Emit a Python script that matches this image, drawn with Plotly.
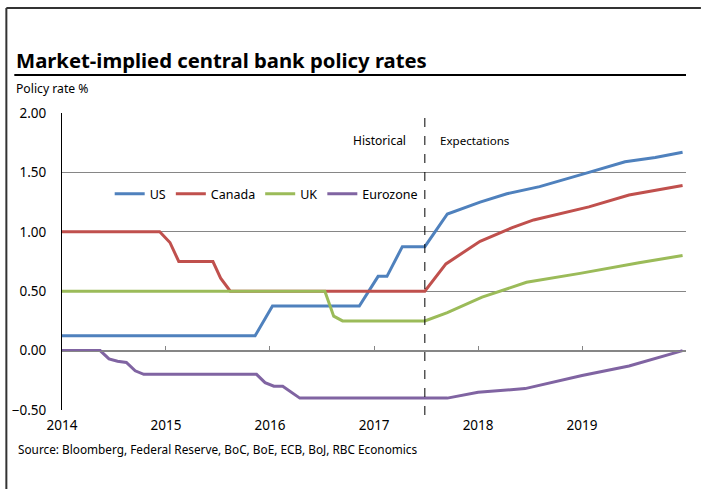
import plotly.graph_objects as go

# ---- data ----
us_dates = ["2014-01-01", "2015-11-10", "2016-01-10", "2016-11-10", "2017-01-15", "2017-02-15",
            "2017-04-10", "2017-06-28", "2017-09-15", "2018-01-08", "2018-04-12", "2018-08-05",
            "2019-01-25", "2019-06-01", "2019-09-15", "2019-12-20"]
us_vals = [0.125, 0.125, 0.375, 0.375, 0.625, 0.625, 0.875, 0.875, 1.15, 1.25, 1.32, 1.38,
           1.50, 1.59, 1.625, 1.67]

ca_dates = ["2014-01-01", "2014-12-10", "2015-01-15", "2015-02-15", "2015-06-15", "2015-07-12",
            "2015-08-15", "2017-06-28", "2017-09-10", "2018-01-08", "2018-05-01", "2018-07-15",
            "2019-01-25", "2019-06-15", "2019-12-20"]
ca_vals = [1.0, 1.0, 0.91, 0.75, 0.75, 0.61, 0.5, 0.5, 0.73, 0.92, 1.035, 1.10, 1.21, 1.31, 1.39]

uk_dates = ["2014-01-01", "2016-07-12", "2016-08-12", "2016-09-12", "2017-06-28", "2017-09-15",
            "2018-01-15", "2018-06-20", "2018-12-25", "2019-07-20", "2019-12-20"]
uk_vals = [0.5, 0.5, 0.29, 0.25, 0.25, 0.32, 0.45, 0.575, 0.65, 0.74, 0.80]

ez_dates = ["2014-01-01", "2014-05-15", "2014-06-15", "2014-07-15", "2014-08-15", "2014-09-15",
            "2014-10-15", "2015-11-15", "2015-12-15", "2016-01-15", "2016-02-15", "2016-04-15",
            "2017-09-15", "2018-01-01", "2018-06-15", "2019-01-01", "2019-06-15", "2019-12-20"]
ez_vals = [0.0, 0.0, -0.07, -0.09, -0.10, -0.17, -0.20, -0.20, -0.27, -0.30, -0.30, -0.40,
           -0.40, -0.35, -0.32, -0.21, -0.13, 0.0]

year_ticks = ["2014-01-01", "2015-01-01", "2016-01-01", "2017-01-01", "2018-01-01", "2019-01-01", "2020-01-01"]
year_labels = ["2014", "2015", "2016", "2017", "2018", "2019", ""]
divider_date = "2017-06-28"

FONT = "Noto Sans"
series = [
    ("US", us_dates, us_vals, "#4F81BD"),
    ("Canada", ca_dates, ca_vals, "#C0504D"),
    ("UK", uk_dates, uk_vals, "#9BBB59"),
    ("Eurozone", ez_dates, ez_vals, "#8064A2"),
]

fig = go.Figure()
for name, d, v, c in series:
    fig.add_trace(go.Scatter(x=d, y=v, name=name, mode="lines",
                             line=dict(color=c, width=3)))

# secondary x axis drawn at y=0 with inside ticks (Excel style crossing)
fig.add_trace(go.Scatter(x=[year_ticks[0]], y=[0], xaxis="x2", mode="markers",
                         marker=dict(opacity=0), showlegend=False, hoverinfo="skip"))

L, R, T, B = 58, 15, 113, 79
W, H = 701, 489
pw, ph = W - L - R, H - T - B


def px(X):
    return (X - L) / pw


def py(Y):
    return (H - B - Y) / ph


fig.update_layout(
    width=W, height=H,
    margin=dict(l=L, r=R, t=T, b=B),
    paper_bgcolor="white", plot_bgcolor="white",
    font=dict(family=FONT, color="#000000", size=12),
    showlegend=True,
    legend=dict(orientation="h", x=px(106), y=py(194), xanchor="left", yanchor="middle",
                font=dict(size=12.5, family=FONT), bgcolor="rgba(0,0,0,0)", itemwidth=30,
                tracegroupgap=0),
    xaxis=dict(type="date", range=["2014-01-01", "2020-01-01"], tickvals=year_ticks,
               ticktext=year_labels, showgrid=False, zeroline=False, showline=False,
               ticks="", tickfont=dict(size=13.5), ticklabelstandoff=5),
    xaxis2=dict(type="date", overlaying="x", matches="x", anchor="free", position=py(351),
                showline=True, linecolor="#868686", linewidth=1, ticks="inside", ticklen=5,
                tickcolor="#868686", tickvals=year_ticks, showticklabels=False,
                showgrid=False, zeroline=False),
    yaxis=dict(range=[-0.5, 2.0], dtick=0.5, tick0=0, tickformat=".2f", showgrid=True,
               gridcolor="#868686", gridwidth=1, zeroline=False, showline=True,
               linecolor="#000000", linewidth=1, ticks="", tickfont=dict(size=13.5),
               ticklabelstandoff=12),
)

shapes = [
    # outer frame (top and left)
    dict(type="line", xref="paper", yref="paper", x0=px(2), x1=px(701), y0=py(8), y1=py(8),
         line=dict(color="#333333", width=2)),
    dict(type="line", xref="paper", yref="paper", x0=px(2), x1=px(2), y0=py(8), y1=py(489),
         line=dict(color="#333333", width=2)),
    # title underline
    dict(type="line", xref="paper", yref="paper", x0=px(10), x1=px(686), y0=py(75), y1=py(75),
         line=dict(color="#000000", width=2)),
    # historical / expectations divider
    dict(type="line", xref="x", yref="paper", x0=divider_date, x1=divider_date,
         y0=py(118), y1=py(420), line=dict(color="#000000", width=1, dash="dash")),
]
fig.update_layout(shapes=shapes)

annots = [
    dict(text="<b>Market-implied central bank policy rates</b>", x=px(10), y=py(60),
         xanchor="left", yanchor="middle", font=dict(size=20.3, family=FONT)),
    dict(text="Policy rate %", x=px(10), y=py(88), xanchor="left", yanchor="middle",
         font=dict(size=12.2, family=FONT)),
    dict(text="Source: Bloomberg, Federal Reserve, BoC, BoE, ECB, BoJ, RBC Economics",
         x=px(12), y=py(449), xanchor="left", yanchor="middle", font=dict(size=11.8, family=FONT)),
    dict(text="Historical", x=px(378), y=py(140), xanchor="center", yanchor="middle",
         font=dict(size=12, family=FONT)),
    dict(text="Expectations", x=px(474), y=py(140), xanchor="center", yanchor="middle",
         font=dict(size=11.6, family=FONT)),
]
for a in annots:
    a.update(xref="paper", yref="paper", showarrow=False)
fig.update_layout(annotations=annots)

fig.write_html("out.html")
